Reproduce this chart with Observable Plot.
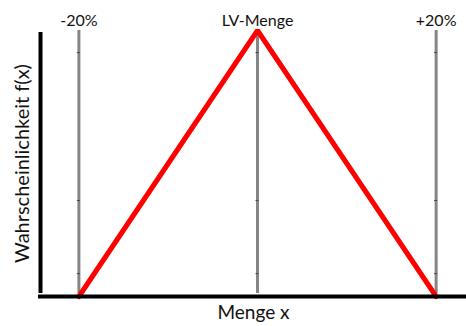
<!DOCTYPE html>
<html>
<head>
<meta charset="utf-8">
<script src="https://cdn.jsdelivr.net/npm/d3@7"></script>
<script src="https://cdn.jsdelivr.net/npm/@observablehq/plot@0.6"></script>
<style>
  html, body { margin: 0; padding: 0; background: #fff; }
  svg { display: block; }
</style>
</head>
<body>
<div id="chart"></div>
<script>
// Data
const xPoints = [-20, 0, 20];          // Menge x (% deviation from LV-Menge)
const fValues = [0, 1, 0];             // Wahrscheinlichkeit f(x)
const refLines = [-20, 0, 20];
const refLabels = ["-20%", "LV-Menge", "+20%"];
const markLevels = [0.086, 0.361, 0.917]; // small tick marks on reference lines
const xDomain = [-24.3, 23.4];
const yDomain = [0, 1];

const tri = xPoints.map((x, i) => ({x, y: fValues[i]}));
const lbl = refLines.map((x, i) => ({x, label: refLabels[i]}));
const marks = [];
refLines.forEach(x => markLevels.forEach(y => marks.push({x, y})));

const font = "Lato, 'Open Sans', sans-serif";

const chart = Plot.plot({
  width: 466,
  height: 326,
  marginLeft: 40,
  marginRight: 0,
  marginTop: 30,
  marginBottom: 30,
  style: {fontFamily: font, background: "#fff"},
  x: {domain: xDomain, axis: null},
  y: {domain: yDomain, axis: null},
  marks: [
    Plot.ruleX(refLines, {x: d => d, y1: 0, y2: 1, stroke: "#858585", strokeWidth: 3, insetTop: -3}),
    Plot.ruleY(marks, {x1: "x", x2: "x", y: "y", stroke: "#444", strokeWidth: 1, insetLeft: -1.5, insetRight: -1.5}),
    Plot.line(tri, {x: "x", y: "y", stroke: "#ff0000", strokeWidth: 5, strokeLinejoin: "miter"}),
    Plot.ruleY([0], {stroke: "#000", strokeWidth: 4, insetLeft: -2}),
    Plot.ruleX([xDomain[0]], {y1: 0, y2: 1, stroke: "#000", strokeWidth: 4, insetTop: -3, insetBottom: -2}),
    Plot.text(lbl, {x: "x", text: "label", frameAnchor: "top", dy: -16, fontSize: 16, fill: "#111"}),
    Plot.text(["Menge x"], {frameAnchor: "bottom", dy: 22, fontSize: 19, fill: "#111"}),
    Plot.text(["Wahrscheinlichkeit f(x)"], {frameAnchor: "left", textAnchor: "middle", dx: -18, rotate: -90, fontSize: 20, fill: "#111"})
  ]
});
document.getElementById("chart").appendChild(chart);
</script>
</body>
</html>
